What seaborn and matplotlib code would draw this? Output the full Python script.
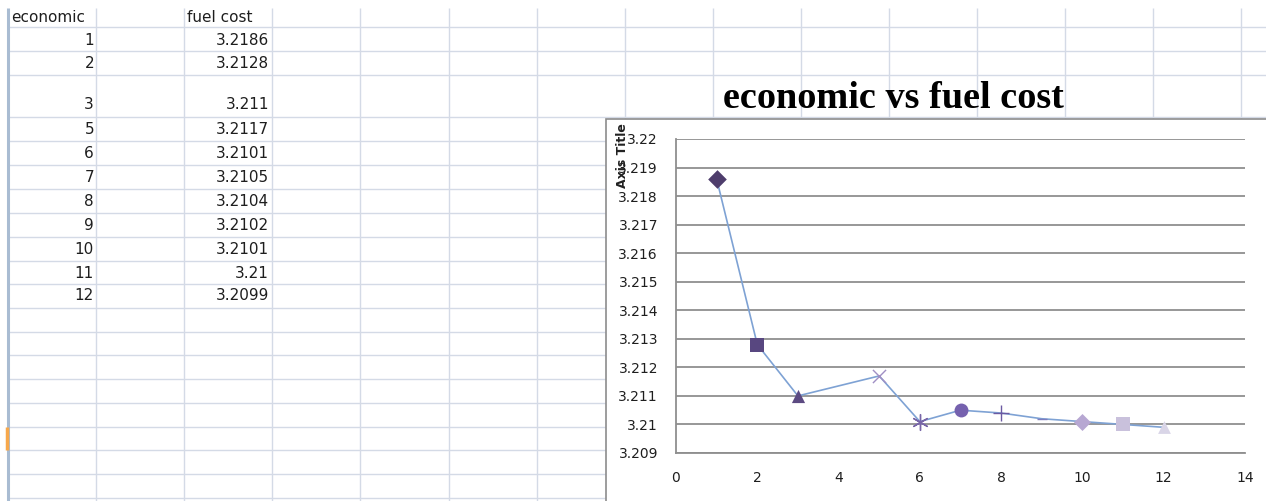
import matplotlib
matplotlib.use("Agg")
import matplotlib.pyplot as plt
import seaborn as sns
from matplotlib.patches import Rectangle
from matplotlib.ticker import FuncFormatter, MultipleLocator

sns.set_style("white")
plt.rcParams['font.family'] = ['DejaVu Sans']

# datos de la hoja / del grafico
economic = [1, 2, 3, 5, 6, 7, 8, 9, 10, 11, 12]
fuel_cost = [3.2186, 3.2128, 3.211, 3.2117, 3.2101, 3.2105, 3.2104, 3.2102, 3.2101, 3.21, 3.2099]
fuel_cost_text = ['3.2186', '3.2128', '3.211', '3.2117', '3.2101', '3.2105', '3.2104',
                  '3.2102', '3.2101', '3.21', '3.2099']
header = ['economic', 'fuel cost']
chart_title = 'economic vs fuel cost'
y_axis_title = 'Axis Title'

# estilo de cada marcador (como Excel, uno distinto por punto)
markers = ['D', 's', '^', 'x', (6, 2, 0), 'o', '+', '_', 'D', 's', '^']
marker_colors = ['#4E3D6C', '#584780', '#5C4A82', '#A08FC4', '#7866A8', '#7561AE',
                 '#6B5AA2', '#7D7DBE', '#B7A7D2', '#C9C1DC', '#D9D5E7']
marker_sizes = [90, 95, 90, 90, 130, 100, 120, 60, 75, 110, 85]

W, H = 1266, 501
fig = plt.figure(figsize=(W / 100, H / 100), dpi=100)

# Hoja de calculo de fondo
bg = fig.add_axes([0, 0, 1, 1])
bg.set_xlim(0, W)
bg.set_ylim(H, 0)
bg.axis('off')

grid_c = '#D4DAE6'
col_x = [96, 184, 272, 360, 449, 537, 625, 713, 801, 889, 977, 1065, 1153, 1241]
row_y = [27, 51, 75, 117, 141, 165, 189, 213, 237, 261, 284, 308, 332, 355, 379, 403,
         427, 450, 474, 498]
bg.vlines(col_x, 8, H, color=grid_c, lw=1)
bg.hlines(row_y, 8, W, color=grid_c, lw=1)
bg.vlines(8, 8, H, color='#A9BCD2', lw=2.2)
bg.vlines(7, 427, 450, color='#F7A84B', lw=2.5)

txt_c = '#1E1E1E'
bg.text(11, 17, header[0], fontsize=11, va='center', ha='left', color=txt_c)
bg.text(187, 17, header[1], fontsize=11, va='center', ha='left', color=txt_c)
row_text_y = [40, 63, 104, 130, 154, 178, 201, 225, 249, 273, 296]
for i in range(len(economic)):
    bg.text(94, row_text_y[i], str(economic[i]), fontsize=11, va='center', ha='right', color=txt_c)
    bg.text(269, row_text_y[i], fuel_cost_text[i], fontsize=11, va='center', ha='right', color=txt_c)

# Marco del grafico
bg.add_patch(Rectangle((606, 119), W, H, facecolor='white', edgecolor='#8C8C8C', lw=1.2, zorder=3))
bg.text(893, 98, chart_title, fontsize=27.5, fontweight='bold', family='Liberation Serif',
        ha='center', va='center', color='black', zorder=4)
bg.text(623, 156, y_axis_title, fontsize=9, fontweight='bold', rotation=90,
        ha='center', va='center', color='#222222', zorder=4)

# Area del grafico
x0, x1, y0, y1 = 676, 1245, 139, 453
ax = fig.add_axes([x0 / W, (H - y1) / H, (x1 - x0) / W, (y1 - y0) / H])
ax.set_facecolor('none')

sns.lineplot(x=economic, y=fuel_cost, ax=ax, color='#7EA2D4', lw=1.2, zorder=2)
for i in range(len(economic)):
    sns.scatterplot(x=[economic[i]], y=[fuel_cost[i]], ax=ax, marker=markers[i],
                    color=marker_colors[i], s=marker_sizes[i], linewidth=1 if i in (3, 4, 6, 7) else 0,
                    zorder=3, legend=False)

ax.set_xlim(0, 14)
ax.set_ylim(3.209, 3.22)
ax.xaxis.set_major_locator(MultipleLocator(2))
ax.yaxis.set_major_locator(MultipleLocator(0.001))
ax.yaxis.set_major_formatter(FuncFormatter(lambda v, p: f"{v:.4g}"))
ax.grid(axis='y', color='#8F8F8F', lw=1.3)
ax.grid(axis='x', visible=False)
ax.set_axisbelow(True)
for s in ['top', 'right']:
    ax.spines[s].set_visible(False)
for s in ['left', 'bottom']:
    ax.spines[s].set_color('#8F8F8F')
    ax.spines[s].set_linewidth(1.3)
ax.tick_params(axis='both', length=0, labelsize=10, colors='#1E1E1E')
ax.tick_params(axis='y', pad=13)
ax.tick_params(axis='x', pad=13)
ax.set_xlabel('')
ax.set_ylabel('')

fig.savefig('out.png', dpi=100)
